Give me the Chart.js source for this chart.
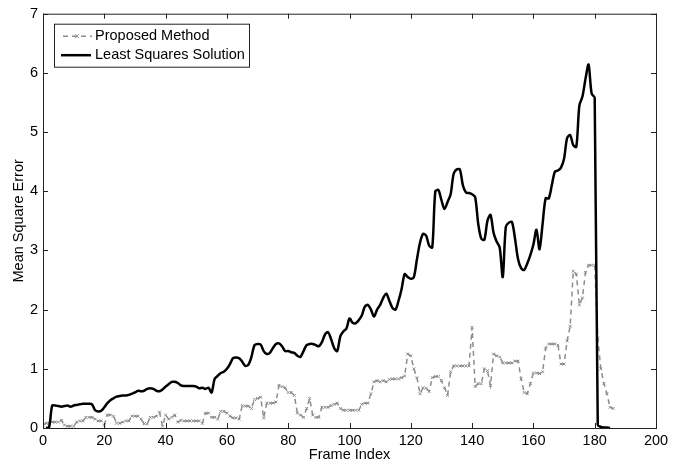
<!DOCTYPE html>
<html>
<head>
<title>Mean Square Error per Frame</title>
<style>
  html, body { margin: 0; padding: 0; background: #fff; }
  #wrap { width: 690px; height: 467px; }
</style>
</head>
<body>
<div id="wrap"><canvas id="mseChart"></canvas></div>
<script src="https://cdn.jsdelivr.net/npm/chart.js"></script>
<script>
// frame index of the first value in each series
const propStart = 0;
const lsqStart = 1;

// Proposed Method, one value per frame (0..186)
const propMse = [
  0.05, 0.08, 0.08, 0.10, 0.10, 0.10, 0.13, 0.05, 0.03, 0.03,
  0.03, 0.10, 0.12, 0.12, 0.18, 0.18, 0.18, 0.15, 0.12, 0.12,
  0.05, 0.22, 0.22, 0.20, 0.08, 0.08, 0.10, 0.12, 0.12, 0.20,
  0.20, 0.20, 0.15, 0.07, 0.07, 0.18, 0.18, 0.20, 0.27, 0.03,
  0.22, 0.15, 0.18, 0.22, 0.10, 0.13, 0.12, 0.12, 0.12, 0.12,
  0.12, 0.12, 0.08, 0.25, 0.25, 0.18, 0.18, 0.15, 0.28, 0.28,
  0.25, 0.20, 0.17, 0.17, 0.15, 0.38, 0.37, 0.37, 0.33, 0.48,
  0.50, 0.52, 0.17, 0.42, 0.42, 0.42, 0.44, 0.72, 0.70, 0.68,
  0.60, 0.60, 0.55, 0.25, 0.22, 0.18, 0.33, 0.50, 0.22, 0.18,
  0.18, 0.35, 0.35, 0.35, 0.38, 0.40, 0.42, 0.33, 0.30, 0.30,
  0.30, 0.30, 0.30, 0.30, 0.40, 0.42, 0.42, 0.58, 0.78, 0.80,
  0.78, 0.80, 0.78, 0.82, 0.83, 0.83, 0.83, 0.85, 0.88, 1.25,
  1.22, 1.00, 0.85, 0.58, 0.68, 0.67, 0.62, 0.85, 0.87, 0.87,
  0.80, 0.68, 0.55, 0.95, 1.05, 1.05, 1.05, 1.05, 1.05, 1.05,
  1.70, 0.70, 0.75, 0.75, 1.00, 0.97, 0.72, 1.25, 1.22, 1.20,
  1.10, 1.10, 1.10, 1.10, 1.13, 1.13, 0.83, 0.60, 0.58, 0.75,
  0.93, 0.93, 0.92, 0.95, 1.35, 1.42, 1.42, 1.42, 1.40, 1.08,
  1.08, 1.47, 1.72, 2.65, 2.60, 2.08, 2.20, 2.63, 2.75, 2.75,
  2.75, 1.52, 1.00, 0.75, 0.58, 0.35, 0.33
];

// Least Squares Solution, one value per frame (1..185)
const lsqMse = [
        0.00, 0.02, 0.38, 0.38, 0.37, 0.36, 0.37, 0.38, 0.36,
  0.38, 0.39, 0.40, 0.41, 0.41, 0.41, 0.40, 0.30, 0.28, 0.29,
  0.35, 0.42, 0.47, 0.50, 0.53, 0.54, 0.55, 0.55, 0.56, 0.58,
  0.60, 0.63, 0.62, 0.63, 0.66, 0.67, 0.66, 0.63, 0.62, 0.65,
  0.70, 0.74, 0.78, 0.78, 0.76, 0.72, 0.71, 0.71, 0.71, 0.71,
  0.70, 0.67, 0.68, 0.66, 0.68, 0.60, 0.83, 0.88, 0.93, 0.95,
  1.00, 1.08, 1.18, 1.19, 1.18, 1.12, 1.05, 1.07, 1.20, 1.40,
  1.42, 1.41, 1.30, 1.25, 1.27, 1.35, 1.42, 1.43, 1.38, 1.30,
  1.30, 1.28, 1.27, 1.22, 1.20, 1.30, 1.40, 1.42, 1.42, 1.40,
  1.38, 1.45, 1.58, 1.62, 1.50, 1.35, 1.30, 1.55, 1.63, 1.68,
  1.85, 1.78, 1.77, 1.82, 1.90, 2.05, 2.08, 2.00, 1.88, 2.00,
  2.08, 2.20, 2.27, 2.15, 2.03, 2.00, 2.15, 2.35, 2.60, 2.55,
  2.52, 2.55, 2.85, 3.13, 3.28, 3.25, 3.08, 3.05, 4.00, 4.02,
  3.85, 3.70, 3.82, 3.95, 4.30, 4.37, 4.37, 4.10, 3.98, 3.97,
  3.95, 3.90, 3.45, 3.20, 3.18, 3.50, 3.60, 3.30, 3.15, 3.05,
  2.55, 3.40, 3.47, 3.48, 3.20, 2.85, 2.70, 2.67, 2.78, 2.92,
  3.10, 3.35, 3.02, 3.45, 3.88, 3.88, 4.10, 4.33, 4.35, 4.40,
  4.55, 4.90, 4.95, 4.78, 4.75, 5.45, 5.60, 5.90, 6.14, 5.65,
  5.58, 0.05, 0.02, 0.01, 0.01, 0.00
];

const seriesLabels = ['Proposed Method', 'Least Squares Solution'];
const xTicks = [0, 20, 40, 60, 80, 100, 120, 140, 160, 180, 200];
const yTicks = [0, 1, 2, 3, 4, 5, 6, 7];

const FONT = 'Arial, "Liberation Sans", Helvetica, sans-serif';
const GRAY = '#8c8c8c';

function toPoints(values, start) {
  return values.map((v, i) => ({ x: start + i, y: v }));
}

// box round the plot plus inward ticks on all four sides (matlab look)
const frameBox = {
  id: 'frameBox',
  afterDraw(chart) {
    const { ctx, chartArea: a, scales } = chart;
    ctx.save();
    ctx.strokeStyle = '#222';
    ctx.lineWidth = 1;
    ctx.strokeRect(a.left + 0.5, a.top + 0.5, a.right - a.left, a.bottom - a.top);
    ctx.beginPath();
    xTicks.forEach(t => {
      const px = Math.round(scales.x.getPixelForValue(t)) + 0.5;
      ctx.moveTo(px, a.bottom); ctx.lineTo(px, a.bottom - 5);
      ctx.moveTo(px, a.top); ctx.lineTo(px, a.top + 5);
    });
    yTicks.forEach(t => {
      const py = Math.round(scales.y.getPixelForValue(t)) + 0.5;
      ctx.moveTo(a.left, py); ctx.lineTo(a.left + 5, py);
      ctx.moveTo(a.right, py); ctx.lineTo(a.right - 5, py);
    });
    ctx.stroke();
    ctx.restore();
  }
};

// legend box inside the top-left corner of the plot
const insideLegend = {
  id: 'insideLegend',
  afterDraw(chart) {
    const ctx = chart.ctx;
    const a = chart.chartArea;
    const x0 = a.left + 11, y0 = a.top + 10, w = 195, h = 43;
    ctx.save();
    ctx.fillStyle = '#fff';
    ctx.fillRect(x0, y0, w, h);
    ctx.strokeStyle = '#222';
    ctx.lineWidth = 1;
    ctx.strokeRect(x0 + 0.5, y0 + 0.5, w, h);

    ctx.font = '14.5px ' + FONT;
    ctx.fillStyle = '#000';
    ctx.textBaseline = 'middle';

    // Proposed Method: dashed gray with an x marker
    let ly = y0 + 12.5;
    ctx.strokeStyle = GRAY;
    ctx.lineWidth = 1.5;
    ctx.setLineDash([5, 4]);
    ctx.beginPath();
    ctx.moveTo(x0 + 9, ly); ctx.lineTo(x0 + 38, ly);
    ctx.stroke();
    ctx.setLineDash([]);
    ctx.lineWidth = 1;
    ctx.beginPath();
    ctx.moveTo(x0 + 21, ly - 2); ctx.lineTo(x0 + 25, ly + 2);
    ctx.moveTo(x0 + 21, ly + 2); ctx.lineTo(x0 + 25, ly - 2);
    ctx.stroke();
    ctx.fillText(seriesLabels[0], x0 + 41, ly);

    // Least Squares Solution: solid black
    ly = y0 + 31.5;
    ctx.strokeStyle = '#000';
    ctx.lineWidth = 2.5;
    ctx.beginPath();
    ctx.moveTo(x0 + 7, ly); ctx.lineTo(x0 + 37, ly);
    ctx.stroke();
    ctx.fillText(seriesLabels[1], x0 + 41, ly);
    ctx.restore();
  }
};

new Chart(document.getElementById('mseChart'), {
  type: 'line',
  data: {
    datasets: [{
      label: seriesLabels[0],
      data: toPoints(propMse, propStart),
      borderColor: GRAY,
      borderWidth: 1.5,
      borderDash: [5, 4],
      pointStyle: 'crossRot',
      pointRadius: 2,
      pointBorderWidth: 1,
      pointBorderColor: GRAY,
      tension: 0,
      order: 2
    }, {
      label: seriesLabels[1],
      data: toPoints(lsqMse, lsqStart),
      borderColor: '#000',
      borderWidth: 2.5,
      pointRadius: 0,
      tension: 0.3,
      order: 1
    }]
  },
  options: {
    responsive: true,
    maintainAspectRatio: false,
    animation: false,
    layout: { padding: { left: 0, right: 34, top: 9, bottom: 0 } },
    plugins: {
      legend: { display: false },
      tooltip: { enabled: false }
    },
    scales: {
      x: {
        type: 'linear',
        min: 0,
        max: 200,
        afterBuildTicks: s => { s.ticks = xTicks.map(v => ({ value: v })); },
        afterFit: s => { s.height = 39; },
        grid: { display: false, drawTicks: false, tickLength: 0 },
        border: { display: false },
        ticks: { color: '#000', padding: 4, maxRotation: 0, font: { family: FONT, size: 14.5 } },
        title: { display: true, text: 'Frame Index', color: '#000', padding: { top: 0, bottom: 3 }, font: { family: FONT, size: 14.5 } }
      },
      y: {
        type: 'linear',
        min: 0,
        max: 7,
        afterBuildTicks: s => { s.ticks = yTicks.map(v => ({ value: v })); },
        afterFit: s => { s.width = 43; },
        grid: { display: false, drawTicks: false, tickLength: 0 },
        border: { display: false },
        ticks: { color: '#000', padding: 5, font: { family: FONT, size: 14.5 } },
        title: { display: true, text: 'Mean Square Error', color: '#000', padding: { top: 10, bottom: 0 }, font: { family: FONT, size: 14.5 } }
      }
    }
  },
  plugins: [frameBox, insideLegend]
});
</script>
</body>
</html>
